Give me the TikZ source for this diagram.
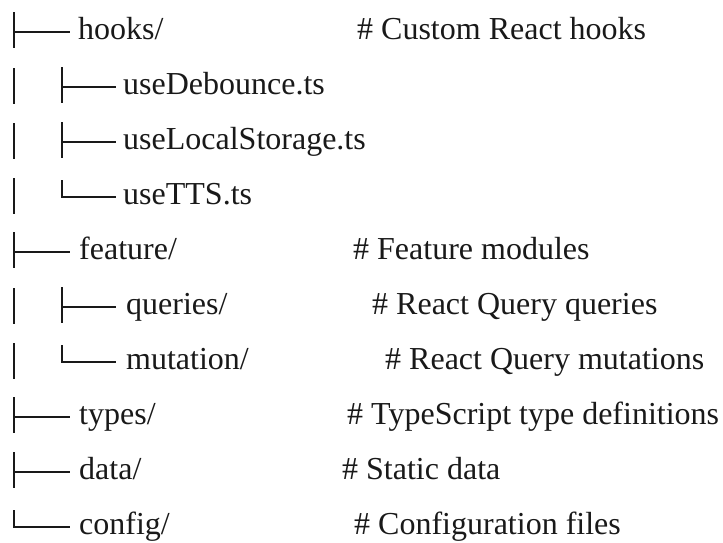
\documentclass[tikz,border=0pt]{standalone}
\usepackage{fontspec}
\setmainfont{Liberation Serif}
\usetikzlibrary{calc}
\begin{document}
\begin{tikzpicture}[x=1pt,y=-1pt,
  entry/.style={anchor=base west, inner sep=0pt, font=\fontsize{32}{38}\selectfont, text=black!90},
  note/.style={entry},
  rail/.style={line width=2.5pt, line cap=butt, draw=black!90},
  twig/.style={line width=1.5pt, line cap=butt, draw=black!90}]
\useasboundingbox (0,0) rectangle (723,542);

% file and folder names (baselines 7pt below each branch line)
\node[entry] (hooks)    at (78,39)  {hooks/};
\node[entry] (debounce) at (123,94) {useDebounce.ts};
\node[entry] (storage)  at (123,149) {useLocalStorage.ts};
\node[entry] (tts)      at (123,204) {useTTS.ts};
\node[entry] (feature)  at (79,259) {feature/};
\node[entry] (queries)  at (126,314) {queries/};
\node[entry] (mutation) at (126,369) {mutation/};
\node[entry] (types)    at (79,424) {types/};
\node[entry] (data)     at (79,479) {data/};
\node[entry] (config)   at (79,534) {config/};

% comments
\node[note] (hooksnote)    at (357,39)  {\# Custom React hooks};
\node[note] (featurenote)  at (353,259) {\# Feature modules};
\node[note] (queriesnote)  at (372,314) {\# React Query queries};
\node[note] (mutationnote) at (385,369) {\# React Query mutations};
\node[note] (typesnote)    at (347,424) {\# TypeScript type definitions};
\node[note] (datanote)     at (342,479) {\# Static data};
\node[note] (confignote)   at (354,534) {\# Configuration files};

% branch points of the tree
\coordinate (b0) at (14,32);
\coordinate (b1) at (62,87);
\coordinate (b2) at (62,142);
\coordinate (b3) at (62,197);
\coordinate (b4) at (14,252);
\coordinate (b5) at (62,307);
\coordinate (b6) at (62,362);
\coordinate (b7) at (14,417);
\coordinate (b8) at (14,472);
\coordinate (b9) at (14,527);

% tee branches
\foreach \b in {b0,b1,b2,b4,b5,b7,b8}
  \draw[rail] ($(\b)+(0,-20)$) -- ($(\b)+(0,16)$);
% corner branches
\foreach \b in {b3,b6,b9}
  \draw[rail] ($(\b)+(0,-17)$) -- ($(\b)+(0,0.75)$);
% outer rail continuing beside nested entries
\foreach \b in {b1,b2,b3,b5,b6}
  \draw[rail] ($(\b -| b0)+(0,-19)$) -- ($(\b -| b0)+(0,17)$);

% horizontal twigs ending just before each name
\draw[twig] (b0) -- ($(b0 -| hooks.west)+(-8,0)$);
\draw[twig] (b1) -- ($(b1 -| debounce.west)+(-7,0)$);
\draw[twig] (b2) -- ($(b2 -| storage.west)+(-7,0)$);
\draw[twig] (b3) -- ($(b3 -| tts.west)+(-7,0)$);
\draw[twig] (b4) -- ($(b4 -| feature.west)+(-9,0)$);
\draw[twig] (b5) -- ($(b5 -| queries.west)+(-10,0)$);
\draw[twig] (b6) -- ($(b6 -| mutation.west)+(-10,0)$);
\draw[twig] (b7) -- ($(b7 -| types.west)+(-9,0)$);
\draw[twig] (b8) -- ($(b8 -| data.west)+(-9,0)$);
\draw[twig] (b9) -- ($(b9 -| config.west)+(-9,0)$);
\end{tikzpicture}
\end{document}
